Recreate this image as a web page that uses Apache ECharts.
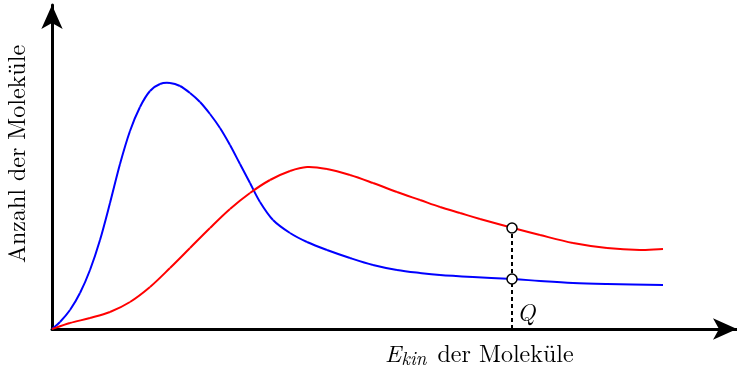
<!DOCTYPE html>
<html lang="de">
<head>
    <meta charset="UTF-8">
    <title>Energieverteilung</title>
    <script src="https://cdn.jsdelivr.net/npm/echarts@6/dist/echarts.min.js"></script>
    <style>
        html, body { margin: 0; padding: 0; background: #fff; }
    </style>
</head>
<body>
<div id="main" style="width: 737px;height:367px;"></div>
<script type="text/javascript">
    // Kurven (x = Energie, y = Anzahl)
    var blueCurve = [
        [0, 0], [8, 7], [18, 19], [28, 36], [38, 59], [48, 89], [58, 126], [68, 165],
        [78, 198], [88, 222], [98, 238], [108, 245], [118, 246], [128, 243], [138, 236],
        [148, 227], [158, 215], [168, 201], [178, 184], [188, 165], [198, 146], [208, 127],
        [221, 109], [238, 96], [255, 87], [275, 79], [298, 71], [321, 64], [345, 59],
        [368, 56], [388, 54], [421, 52], [461, 50], [488, 48], [521, 46], [555, 45], [611, 44]
    ];
    var redCurve = [
        [0, 0], [18, 6], [38, 11], [58, 17], [78, 27], [98, 42], [118, 61], [138, 81],
        [158, 101], [178, 120], [198, 136], [218, 149], [238, 158], [255, 162], [275, 160],
        [298, 154], [321, 146], [345, 137], [368, 129], [388, 122], [408, 116], [428, 110],
        [461, 101], [488, 94], [521, 86], [555, 81], [588, 79], [611, 80]
    ];
    var qPoints = [[460, 101], [460, 50]];
    var qLine = [[460, 0], [460, 101]];

    var serif = '"Latin Modern Roman", "DejaVu Serif", "Liberation Serif", serif';

    var myChart = echarts.init(document.getElementById('main'));

    function curveSeries(data, color) {
        return {
            type: 'custom',
            data: data,
            encode: { x: 0, y: 1 },
            z: 4,
            renderItem: function (params, api) {
                var i = params.dataIndex;
                if (i >= data.length - 1) return null;
                var pt = function (k) {
                    k = Math.max(0, Math.min(data.length - 1, k));
                    return api.coord(data[k]);
                };
                var p0 = pt(i - 1), p1 = pt(i), p2 = pt(i + 1), p3 = pt(i + 2);
                return {
                    type: 'bezierCurve',
                    shape: {
                        x1: p1[0], y1: p1[1],
                        cpx1: p1[0] + (p2[0] - p0[0]) / 6, cpy1: p1[1] + (p2[1] - p0[1]) / 6,
                        cpx2: p2[0] - (p3[0] - p1[0]) / 6, cpy2: p2[1] - (p3[1] - p1[1]) / 6,
                        x2: p2[0], y2: p2[1]
                    },
                    style: { stroke: color, lineWidth: 2, fill: 'none' }
                };
            }
        };
    }

    var axisCommon = {
        type: 'value',
        min: 0,
        axisTick: { show: false },
        axisLabel: { show: false },
        splitLine: { show: false },
        axisLine: {
            show: true,
            onZero: false,
            symbol: ['none', 'arrow'],
            symbolSize: [16, 24],
            lineStyle: { color: '#000', width: 3 }
        }
    };

    var option = {
        animation: false,
        grid: { left: 52, right: 0, top: 5, bottom: 38 },
        xAxis: Object.assign({}, axisCommon, { max: 685 }),
        yAxis: Object.assign({}, axisCommon, { max: 324 }),
        series: [
            {
                type: 'line',
                data: qLine,
                symbol: 'none',
                lineStyle: { color: '#000', width: 2, type: [4, 3] },
                z: 3
            },
            curveSeries(blueCurve, '#0000ff'),
            curveSeries(redCurve, '#ff0000'),
            {
                type: 'scatter',
                data: qPoints,
                symbol: 'circle',
                symbolSize: 10,
                itemStyle: { color: '#ffffff', opacity: 1, borderColor: '#000', borderWidth: 1.5 },
                z: 6
            }
        ],
        graphic: [
            {
                type: 'text',
                x: 18, y: 154,
                rotation: Math.PI / 2,
                style: {
                    text: 'Anzahl der Moleküle',
                    font: '24px ' + serif,
                    fill: '#000',
                    align: 'center',
                    verticalAlign: 'middle'
                }
            },
            {
                type: 'text',
                x: 385, y: 355,
                style: {
                    text: '{e|E}{s|kin} der Moleküle',
                    fill: '#000',
                    verticalAlign: 'middle',
                    rich: {
                        e: { font: 'italic 24px ' + serif },
                        s: { font: 'italic 19px ' + serif, padding: [8, 3, 0, 0] }
                    },
                    font: '24px ' + serif
                }
            },
            {
                type: 'text',
                x: 517, y: 314,
                style: {
                    text: 'Q',
                    font: 'italic 24px ' + serif,
                    fill: '#000',
                    verticalAlign: 'middle'
                }
            }
        ]
    };

    myChart.setOption(option);
</script>
</body>
</html>
